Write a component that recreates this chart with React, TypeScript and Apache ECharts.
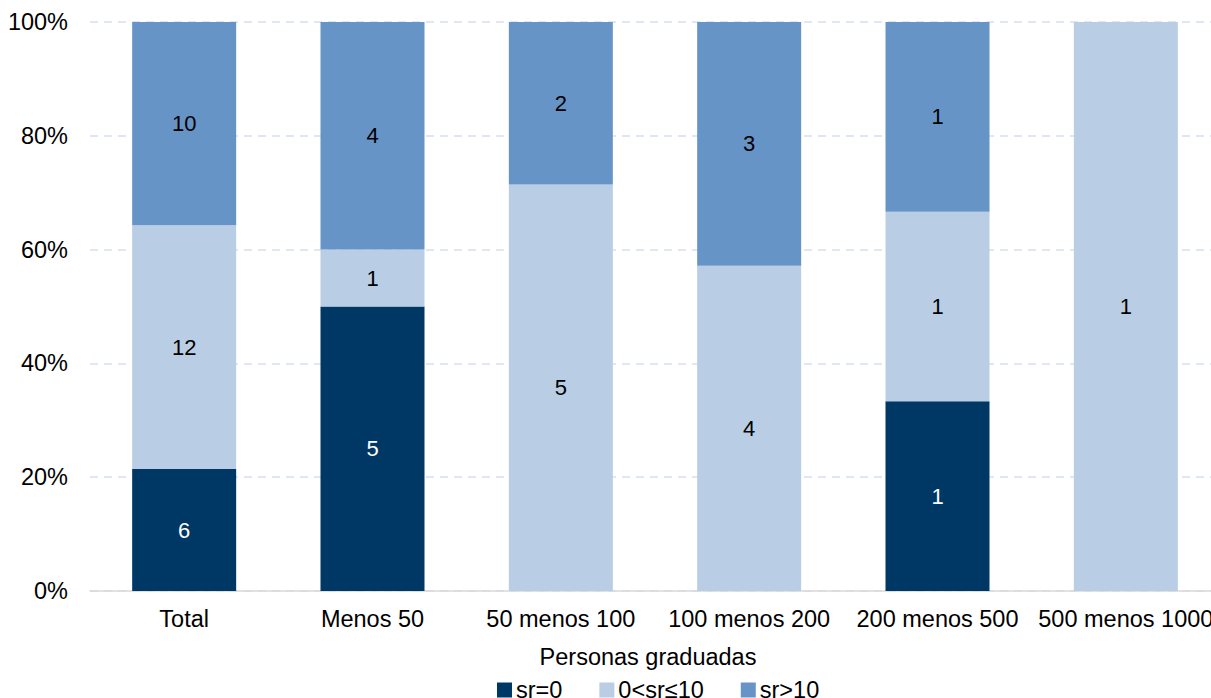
import React, { useEffect, useRef } from "react";
import * as echarts from "echarts";

const categories = ["Total", "Menos 50", "50 menos 100", "100 menos 200", "200 menos 500", "500 menos 1000"];
const seriesNames = ["sr=0", "0<sr≤10", "sr>10"];
const srZero = [6, 5, 0, 0, 1, 0];
const srLow = [12, 1, 5, 4, 1, 1];
const srHigh = [10, 4, 2, 3, 1, 0];
const yTicks = [0, 0.2, 0.4, 0.6, 0.8, 1];
const colors = ["#003865", "#b9cde5", "#6794c6"];
const labelColors = ["#ffffff", "#000000", "#000000"];

export default function App() {
  const ref = useRef<HTMLDivElement>(null);
  useEffect(() => {
    if (!ref.current) return;
    const chart = echarts.init(ref.current, null, { renderer: "svg" });
    const counts = [srZero, srLow, srHigh];
    const totals = categories.map((_, i) => counts.reduce((s, arr) => s + arr[i], 0));
    const font = "'Liberation Sans', Arial, sans-serif";
    const fs = 23.5;
    chart.setOption({
      animation: false,
      textStyle: { fontFamily: font },
      grid: {
        left: 90,
        top: 22,
        width: 1130,
        height: 569,
        containLabel: false,
        outerBoundsMode: "none",
      },
      legend: {
        left: 492,
        top: 673,
        itemWidth: 15,
        itemHeight: 15,
        itemGap: 37,
        icon: "rect",
        textStyle: { fontSize: fs, color: "#000", fontFamily: font, padding: [0, 0, 0, -1] },
        data: seriesNames,
      },
      xAxis: {
        type: "category",
        data: categories,
        name: "Personas graduadas",
        nameLocation: "middle",
        nameGap: 54,
        nameTextStyle: { fontSize: fs, color: "#000", fontFamily: font, padding: [0, 14, 0, 0] },
        axisLine: { lineStyle: { color: "#d9d9d9", width: 1.5 } },
        axisTick: { show: false },
        axisLabel: { fontSize: fs, color: "#000", margin: 16, fontFamily: font, interval: 0 },
      },
      yAxis: {
        type: "value",
        min: 0,
        max: 1,
        interval: 0.2,
        axisLine: { show: false },
        axisTick: { show: false },
        axisLabel: {
          fontSize: fs,
          color: "#000",
          margin: 22,
          fontFamily: font,
          formatter: (v: number) => (yTicks.includes(Math.round(v * 10) / 10) ? Math.round(v * 100) + "%" : ""),
        },
        splitLine: { lineStyle: { color: "#d6dff0", type: [8, 6], width: 1.5 } },
      },
      series: counts.map((arr, si) => ({
        name: seriesNames[si],
        type: "bar",
        stack: "total",
        barWidth: 104,
        itemStyle: { color: colors[si] },
        label: {
          show: true,
          position: "inside",
          fontSize: 22,
          color: labelColors[si],
          fontFamily: font,
          formatter: (p: any) => (arr[p.dataIndex] > 0 ? String(arr[p.dataIndex]) : ""),
        },
        data: arr.map((v, i) => v / totals[i]),
      })),
    });
    return () => chart.dispose();
  }, []);
  return (
    <div
      ref={ref}
      style={{ position: "absolute", left: 0, top: 0, width: 1211, height: 698, overflow: "hidden" }}
    />
  );
}
